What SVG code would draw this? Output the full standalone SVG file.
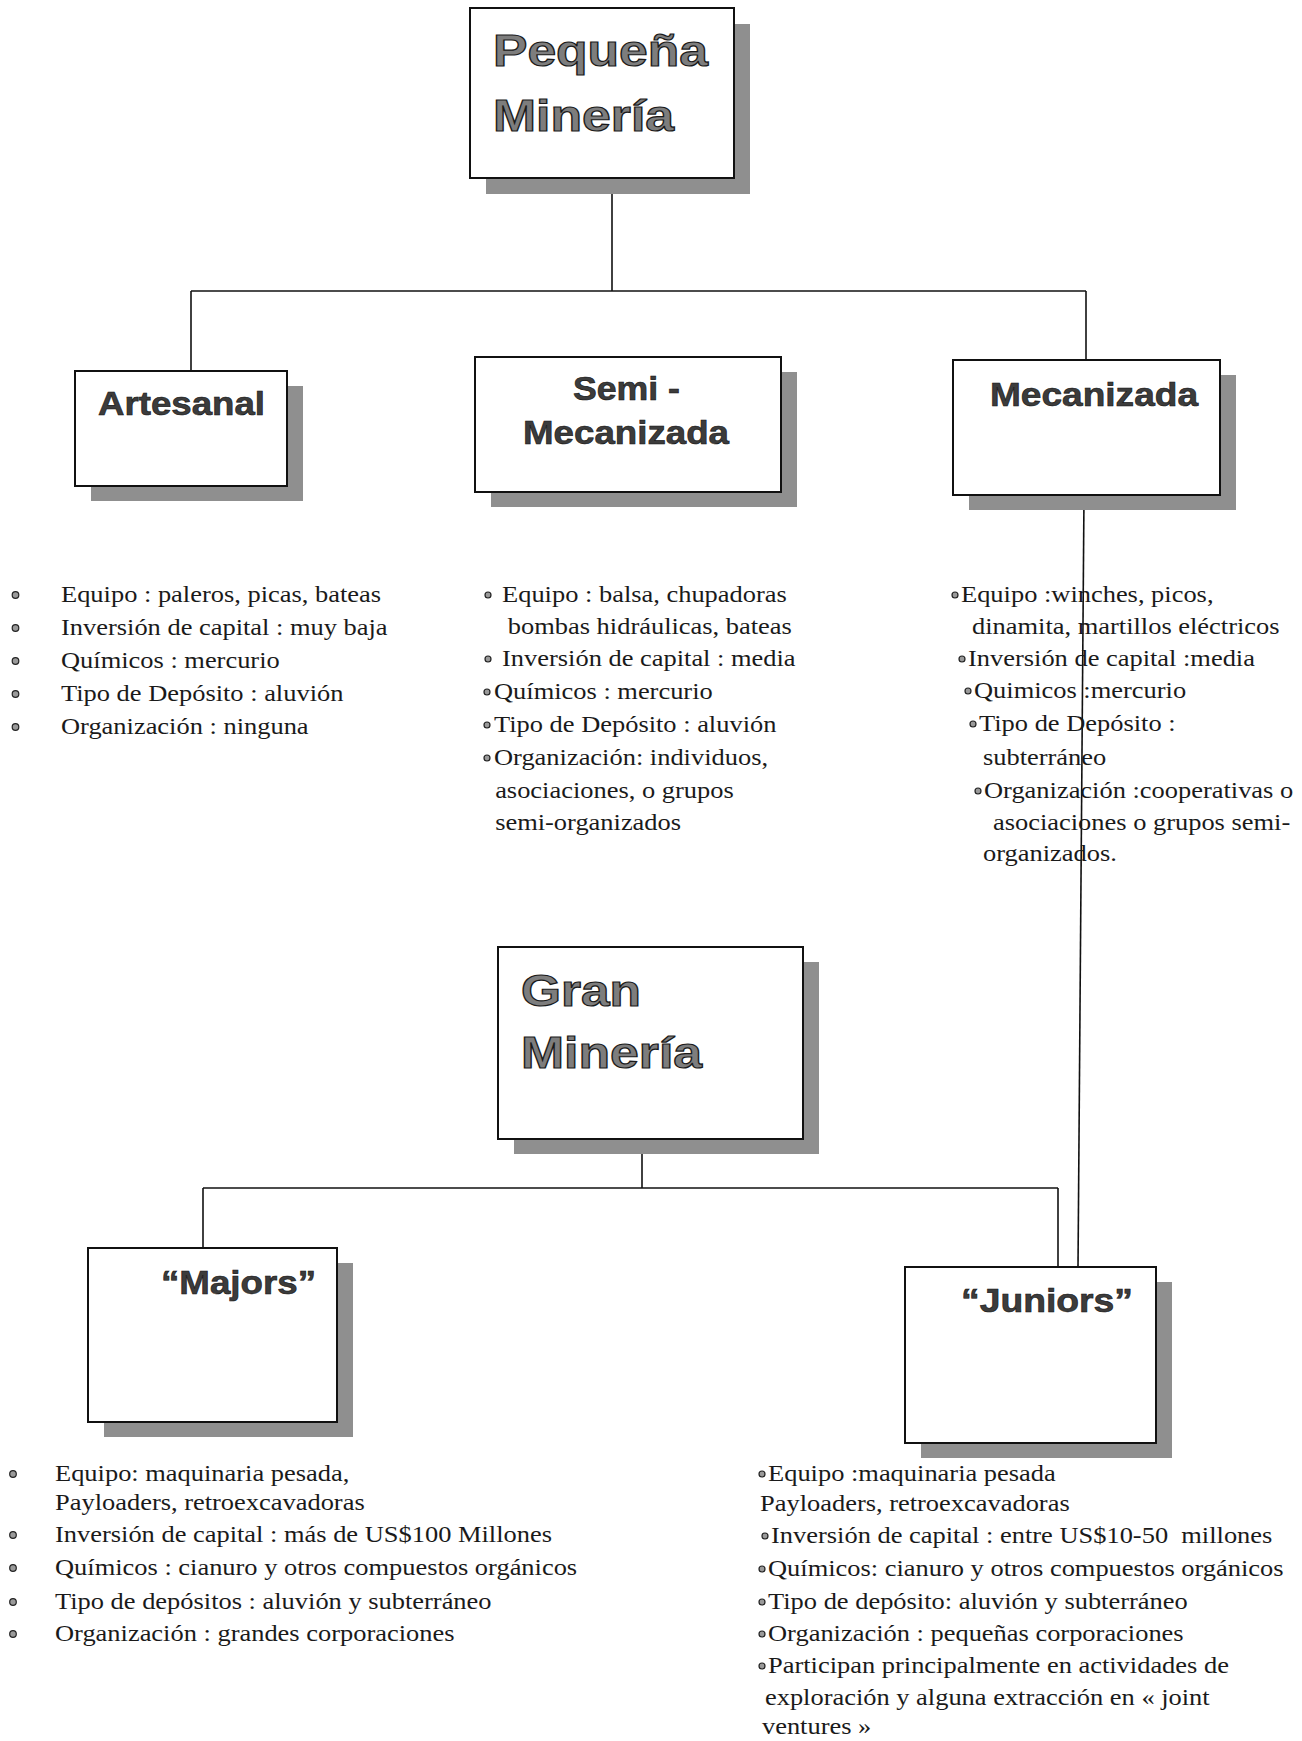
<svg xmlns="http://www.w3.org/2000/svg" width="1302" height="1741" viewBox="0 0 1302 1741">
<defs>
<style>
.box{fill:#fff;stroke:#111;stroke-width:2}
.shadow{fill:#8f8f8f}
.title{font-family:"Liberation Sans",Arial,sans-serif;font-weight:bold;font-size:44px;fill:#7d7d7d;stroke:#1a1a1a;stroke-width:1.2}
.sub{font-family:"Liberation Sans",Arial,sans-serif;font-weight:bold;font-size:34px;fill:#3c3c3c;stroke:#111;stroke-width:0.6}
.body{font-family:"Liberation Serif","Times New Roman",serif;font-size:23px;fill:#1a1a1a}
.bul{fill:#9a9a9a;stroke:#222;stroke-width:1.2}
.conn{stroke:#111;stroke-width:1.6;fill:none}
</style>
</defs>
<rect width="1302" height="1741" fill="#fff"/>

<g id="connectors" class="conn">
<path d="M612 178 V291"/>
<path d="M191 291 H1086"/>
<path d="M191 291 V371"/>
<path d="M1086 291 V360"/>
<path d="M1084 495 L1078 1267"/>
<path d="M642 1139 V1188"/>
<path d="M203 1188 H1058"/>
<path d="M203 1188 V1248"/>
<path d="M1058 1188 V1267"/>
</g>

<g id="node-pequena">
<rect class="shadow" x="486" y="24" width="264" height="170"/>
<rect class="box" x="470" y="8" width="264" height="170"/>
<text class="title" x="493" y="66" textLength="215" lengthAdjust="spacingAndGlyphs">Pequeña</text>
<text class="title" x="493" y="131" textLength="181" lengthAdjust="spacingAndGlyphs">Minería</text>
</g>

<g id="node-artesanal">
<rect class="shadow" x="91" y="386" width="212" height="115"/>
<rect class="box" x="75" y="371" width="212" height="115"/>
<text class="sub" x="98" y="415" textLength="167" lengthAdjust="spacingAndGlyphs">Artesanal</text>
</g>

<g id="node-semi">
<rect class="shadow" x="491" y="372" width="306" height="135"/>
<rect class="box" x="475" y="357" width="306" height="135"/>
<text class="sub" x="573" y="400" textLength="107" lengthAdjust="spacingAndGlyphs">Semi -</text>
<text class="sub" x="523" y="444" textLength="206" lengthAdjust="spacingAndGlyphs">Mecanizada</text>
</g>

<g id="node-mecanizada">
<rect class="shadow" x="969" y="375" width="267" height="135"/>
<rect class="box" x="953" y="360" width="267" height="135"/>
<text class="sub" x="990" y="406" textLength="208" lengthAdjust="spacingAndGlyphs">Mecanizada</text>
</g>

<g id="node-gran">
<rect class="shadow" x="514" y="962" width="305" height="192"/>
<rect class="box" x="498" y="947" width="305" height="192"/>
<text class="title" x="521" y="1006" textLength="120" lengthAdjust="spacingAndGlyphs">Gran</text>
<text class="title" x="521" y="1068" textLength="181" lengthAdjust="spacingAndGlyphs">Minería</text>
</g>

<g id="node-majors">
<rect class="shadow" x="104" y="1263" width="249" height="174"/>
<rect class="box" x="88" y="1248" width="249" height="174"/>
<text class="sub" x="161" y="1294" textLength="155" lengthAdjust="spacingAndGlyphs">“Majors”</text>
</g>

<g id="node-juniors">
<rect class="shadow" x="921" y="1282" width="251" height="176"/>
<rect class="box" x="905" y="1267" width="251" height="176"/>
<text class="sub" x="961" y="1312" textLength="172" lengthAdjust="spacingAndGlyphs">“Juniors”</text>
</g>

<g id="list-artesanal">
<g class="bul">
<circle cx="15.5" cy="595" r="3.3"/>
<circle cx="15.5" cy="628" r="3.3"/>
<circle cx="15.5" cy="661" r="3.3"/>
<circle cx="15.5" cy="694" r="3.3"/>
<circle cx="15.5" cy="727" r="3.3"/>
</g>
<g class="body" transform="translate(61 0) scale(1.15 1)">
<text x="0" y="602">Equipo : paleros, picas, bateas</text>
<text x="0" y="635">Inversión de capital : muy baja</text>
<text x="0" y="668">Químicos : mercurio</text>
<text x="0" y="701">Tipo de Depósito : aluvión</text>
<text x="0" y="734">Organización : ninguna</text>
</g>
</g>

<g id="list-semi">
<g class="bul">
<circle cx="488" cy="595" r="3"/>
<circle cx="488" cy="659" r="3"/>
<circle cx="487" cy="692" r="3"/>
<circle cx="487" cy="725" r="3"/>
<circle cx="487" cy="758" r="3"/>
</g>
<g class="body" transform="translate(494 0) scale(1.15 1)">
<text x="7" y="602">Equipo : balsa, chupadoras</text>
<text x="12" y="634">bombas hidráulicas, bateas</text>
<text x="7" y="666">Inversión de capital : media</text>
<text x="0" y="699">Químicos : mercurio</text>
<text x="0" y="732">Tipo de Depósito : aluvión</text>
<text x="0" y="765">Organización: individuos,</text>
<text x="1" y="798">asociaciones, o grupos</text>
<text x="1" y="830">semi-organizados</text>
</g>
</g>

<g id="list-mecanizada">
<g class="bul">
<circle cx="955" cy="595" r="3"/>
<circle cx="962" cy="659" r="3"/>
<circle cx="968" cy="691" r="3"/>
<circle cx="973" cy="724" r="3"/>
<circle cx="978" cy="791" r="3"/>
</g>
<g class="body" transform="translate(961 0) scale(1.15 1)">
<text x="0" y="602">Equipo :winches, picos,</text>
<text x="9.6" y="634">dinamita, martillos eléctricos</text>
<text x="6.1" y="666">Inversión de capital :media</text>
<text x="11.3" y="698">Quimicos :mercurio</text>
<text x="15.7" y="731">Tipo de Depósito :</text>
<text x="19.1" y="765">subterráneo</text>
<text x="20" y="798">Organización :cooperativas o</text>
<text x="27.8" y="830">asociaciones o grupos semi-</text>
<text x="19.1" y="861">organizados.</text>
</g>
</g>

<g id="list-majors">
<g class="bul">
<circle cx="13" cy="1474" r="3.3"/>
<circle cx="13" cy="1535" r="3.3"/>
<circle cx="13" cy="1568" r="3.3"/>
<circle cx="13" cy="1602" r="3.3"/>
<circle cx="13" cy="1634" r="3.3"/>
</g>
<g class="body" transform="translate(55 0) scale(1.15 1)">
<text x="0" y="1481">Equipo: maquinaria pesada,</text>
<text x="0" y="1510">Payloaders, retroexcavadoras</text>
<text x="0" y="1542">Inversión de capital : más de US$100 Millones</text>
<text x="0" y="1575">Químicos : cianuro y otros compuestos orgánicos</text>
<text x="0" y="1609">Tipo de depósitos : aluvión y subterráneo</text>
<text x="0" y="1641">Organización : grandes corporaciones</text>
</g>
</g>

<g id="list-juniors">
<g class="bul">
<circle cx="762" cy="1474" r="3"/>
<circle cx="765" cy="1536" r="3"/>
<circle cx="762" cy="1569" r="3"/>
<circle cx="762" cy="1602" r="3"/>
<circle cx="762" cy="1634" r="3"/>
<circle cx="762" cy="1666" r="3"/>
</g>
<g class="body" transform="translate(760 0) scale(1.15 1)">
<text x="7" y="1481">Equipo :maquinaria pesada</text>
<text x="0" y="1511">Payloaders, retroexcavadoras</text>
<text x="9.6" y="1543" xml:space="preserve">Inversión de capital : entre US$10-50  millones</text>
<text x="7" y="1576">Químicos: cianuro y otros compuestos orgánicos</text>
<text x="7" y="1609">Tipo de depósito: aluvión y subterráneo</text>
<text x="7" y="1641">Organización : pequeñas corporaciones</text>
<text x="7" y="1673">Participan principalmente en actividades de</text>
<text x="4.3" y="1705">exploración y alguna extracción en « joint</text>
<text x="1.7" y="1734">ventures »</text>
</g>
</g>
</svg>
